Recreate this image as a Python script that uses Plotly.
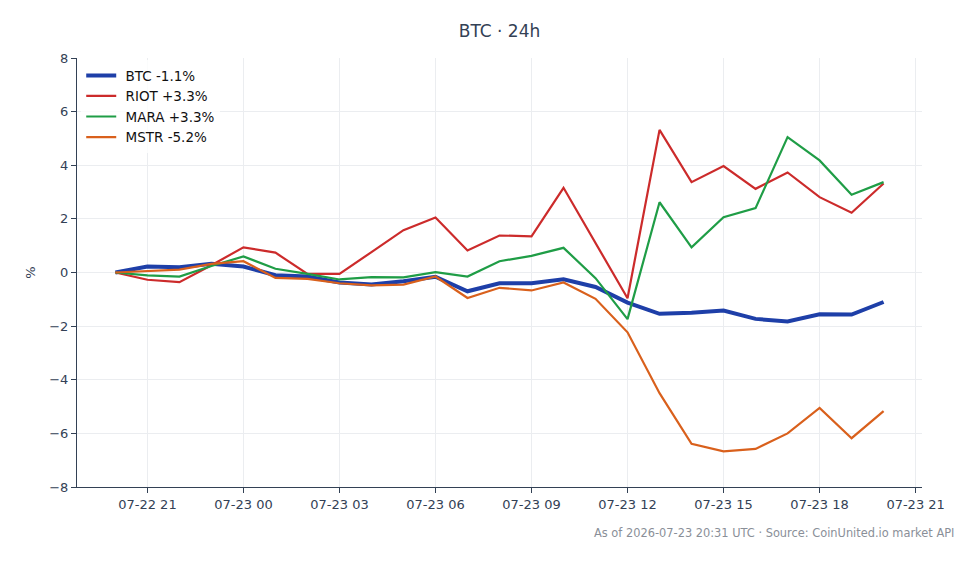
import plotly.graph_objects as go
import pandas as pd

times = pd.date_range("2026-07-22 20:00", "2026-07-23 20:00", freq="h")

btc = [0, 0.22, 0.2, 0.33, 0.22, -0.1, -0.15, -0.37, -0.45, -0.33, -0.16, -0.7, -0.4, -0.4, -0.25,
       -0.54, -1.12, -1.54, -1.5, -1.42, -1.73, -1.83, -1.56, -1.57, -1.1]
riot = [0, -0.27, -0.36, 0.27, 0.94, 0.74, -0.05, -0.05, 0.76, 1.58, 2.05, 0.82, 1.38, 1.35, 3.16,
        1.1, -0.96, 5.32, 3.37, 3.97, 3.12, 3.73, 2.81, 2.23, 3.32]
mara = [0, -0.11, -0.15, 0.24, 0.6, 0.14, -0.05, -0.26, -0.17, -0.18, 0.01, -0.15, 0.42, 0.62, 0.92,
        -0.21, -1.74, 2.62, 0.94, 2.06, 2.4, 5.05, 4.18, 2.9, 3.37]
mstr = [0, 0.06, 0.11, 0.32, 0.42, -0.2, -0.24, -0.4, -0.48, -0.45, -0.15, -0.95, -0.57, -0.67, -0.37,
        -0.98, -2.23, -4.5, -6.39, -6.67, -6.58, -6.0, -5.05, -6.18, -5.17]

series_names = ["BTC -1.1%", "RIOT +3.3%", "MARA +3.3%", "MSTR -5.2%"]
series_vals = [btc, riot, mara, mstr]
colors = ["#1e3fa8", "#cc2b2b", "#1f9d46", "#d9601c"]
widths = [4, 2.2, 2.2, 2.2]

y_ticks = [-8, -6, -4, -2, 0, 2, 4, 6, 8]
x_tick_vals = pd.date_range("2026-07-22 21:00", "2026-07-23 21:00", freq="3h")
x_tick_text = [t.strftime("%m-%d %H") for t in x_tick_vals]

font = "DejaVu Sans"
axis_col = "#334155"

fig = go.Figure()
for name, vals, c, w in zip(series_names, series_vals, colors, widths):
    fig.add_trace(go.Scatter(x=times, y=vals, mode="lines", name=" " + name,
                             line=dict(color=c, width=w)))

fig.add_hline(y=0, line=dict(color="#8a97a8", width=1.2, dash="dash"), layer="below")

fig.update_layout(
    width=980, height=564,
    margin=dict(l=77, r=58, t=58, b=77),
    paper_bgcolor="white", plot_bgcolor="white",
    font=dict(family=font, size=13, color=axis_col),
    title=dict(text="BTC · 24h", x=0.5097, xanchor="center", y=0.945, yanchor="middle",
               font=dict(family=font, size=17, color=axis_col)),
    showlegend=True,
    legend=dict(x=0.005, y=0.995, xanchor="left", yanchor="top", bgcolor="rgba(255,255,255,0.8)",
                borderwidth=0, font=dict(family=font, size=13.5, color="#111111"),
                itemwidth=30, tracegroupgap=0),
    xaxis=dict(range=[pd.Timestamp("2026-07-22 18:48"), pd.Timestamp("2026-07-23 21:12")],
               tickvals=list(x_tick_vals), ticktext=x_tick_text,
               showgrid=True, gridcolor="#ebedf0", gridwidth=1,
               showline=True, linecolor=axis_col, linewidth=1.2,
               ticks="outside", ticklen=5, tickcolor=axis_col, zeroline=False,
               tickfont=dict(family=font, size=13, color=axis_col)),
    yaxis=dict(range=[-8, 8], tickvals=y_ticks, ticktext=[str(v) if v >= 0 else "\u2212" + str(-v) for v in y_ticks],
               showgrid=True, gridcolor="#ebedf0", gridwidth=1,
               showline=True, linecolor=axis_col, linewidth=1.2,
               ticks="outside", ticklen=5, tickcolor=axis_col, zeroline=False,
               title=dict(text="%", font=dict(family=font, size=13, color=axis_col), standoff=10),
               tickfont=dict(family=font, size=13, color=axis_col)),
    annotations=[dict(text="As of 2026-07-23 20:31 UTC · Source: CoinUnited.io market API",
                      xref="paper", yref="paper", x=1.0 + 34 / 845, y=-0.107,
                      xanchor="right", yanchor="middle", showarrow=False,
                      font=dict(family=font, size=11.4, color="#8a8f98"))],
)

fig.write_html("out.html")
